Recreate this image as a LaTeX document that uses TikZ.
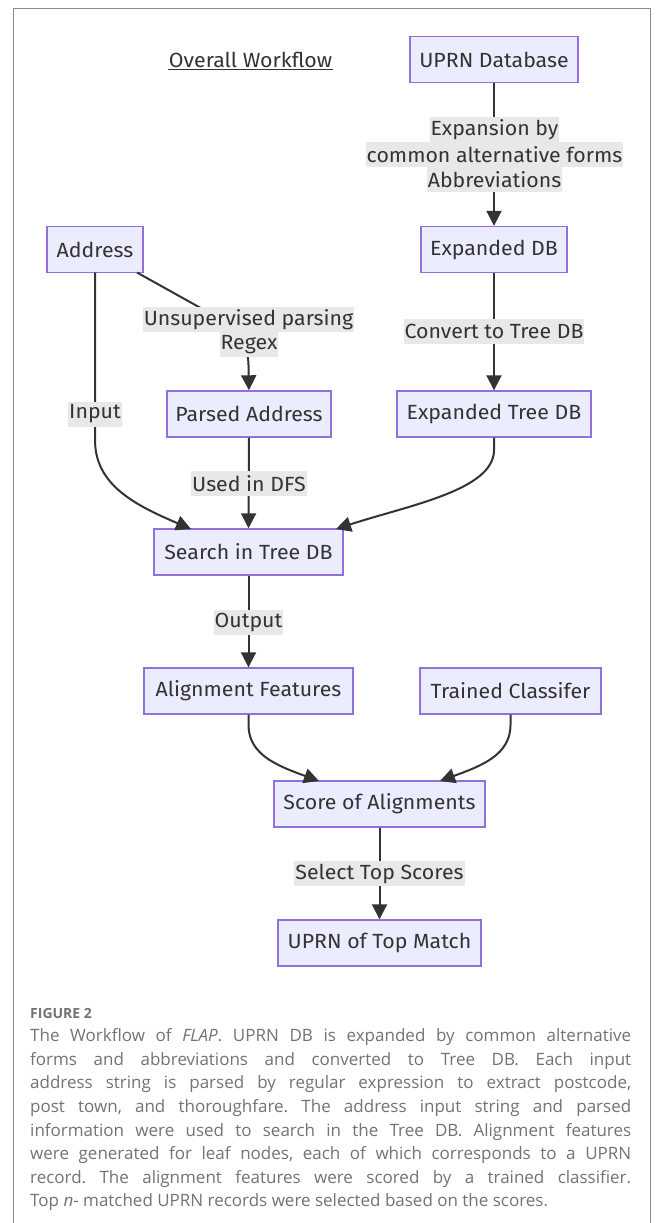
\documentclass[tikz,border=0pt]{standalone}
\usepackage{fontspec}
\setmainfont{Fira Sans}[FakeStretch=1.04]
\newfontfamily\capfont{Open Sans}
\usetikzlibrary{arrows.meta}
\definecolor{nodefill}{HTML}{ECECFF}
\definecolor{nodeline}{HTML}{9370DB}
\definecolor{edgecol}{HTML}{333333}
\definecolor{lblbg}{HTML}{E8E8E8}
\definecolor{framecol}{HTML}{8A8A8A}
\definecolor{capcol}{HTML}{737373}
\tikzset{
  flowbox/.style={draw=nodeline, fill=nodefill, line width=1.4pt, minimum height=46pt,
    inner sep=0pt, text=edgecol, font=\fontsize{20.5}{24}\selectfont},
  edgelbl/.style={fill=lblbg, inner xsep=1pt, inner ysep=0pt, minimum height=25pt,
    text=edgecol, font=\fontsize{20.5}{24}\selectfont},
  flow/.style={draw=edgecol, line width=2pt, -{Triangle[length=15pt,width=15pt]}},
}
\begin{document}
\begin{tikzpicture}[x=1pt, y=-1pt]
\useasboundingbox (0,0) rectangle (656,1223);
\fill[white] (0,0) rectangle (656,1223);
% frame
\draw[framecol, line width=1pt] (13,1223) -- (13,9) -- (650,9) -- (650,1223);

% title
\node[text=edgecol, font=\fontsize{20.5}{24}\selectfont, inner sep=0pt] (title) at (250.5,60) {Overall Workflow};
\draw[edgecol, line width=1pt] (168,70) -- (333,70);

% nodes
\node[flowbox, minimum width=168pt] (uprn) at (494,59.5) {UPRN Database};
\node[flowbox, minimum width=146pt] (exp) at (494,249.5) {Expanded DB};
\node[flowbox, minimum width=96pt] (addr) at (95,249.5) {Address};
\node[flowbox, minimum width=164pt] (parsed) at (249,414) {Parsed Address};
\node[flowbox, minimum width=194pt] (etree) at (494,414) {Expanded Tree DB};
\node[flowbox, minimum width=189pt] (search) at (248.5,552) {Search in Tree DB};
\node[flowbox, minimum width=209pt] (align) at (248.5,691) {Alignment Features};
\node[flowbox, minimum width=181pt] (clf) at (510.5,691) {Trained Classifer};
\node[flowbox, minimum width=211pt] (score) at (379.5,804) {Score of Alignments};
\node[flowbox, minimum width=203pt] (top) at (379.5,943) {UPRN of Top Match};

% connector helper coordinates
\coordinate (addrOut) at (137,272.5);
\coordinate (addrBot) at (95,272.5);
\coordinate (searchInL) at (191,529);
\coordinate (searchInR) at (336,529);
\coordinate (scoreInL) at (319,781);
\coordinate (scoreInR) at (440,781);

% edges
\draw[flow] (uprn.south) -- (exp.north);
\draw[flow] (exp.south) -- (etree.north);
\draw[flow] (addrOut) -- (215,316) .. controls (238,329) and (248,345) .. (248.5,365) -- (parsed.north);
\draw[flow] (addrBot) -- (95,440) .. controls (95,485) and (135,505) .. (searchInL);
\draw[flow] (parsed.south) -- (search.north);
\draw[flow] (etree.south) -- (494,450) .. controls (494,490) and (410,505) .. (searchInR);
\draw[flow] (search.south) -- (align.north);
\draw[flow] (align.south) -- (248.5,725) .. controls (248.5,755) and (278,766) .. (scoreInL);
\draw[flow] (clf.south) -- (510.5,725) .. controls (510.5,755) and (481,766) .. (scoreInR);
\draw[flow] (score.south) -- (top.north);

% edge labels
\node[edgelbl] (l1a) at (494.5,129.5) {Expansion by\ };
\node[edgelbl] (l1b) at (494.5,154.5) {common alternative forms};
\node[edgelbl] (l1c) at (494.5,179.5) {Abbreviations};
\node[edgelbl] (l2) at (494,331.5) {Convert to Tree DB};
\node[edgelbl] (l3a) at (248.5,319.5) {Unsupervised parsing};
\node[edgelbl] (l3b) at (249,344.5) {Regex};
\node[edgelbl] (l4) at (95,414) {Input};
\node[edgelbl] (l5) at (249,483.5) {Used in DFS};
\node[edgelbl] (l6) at (248.5,622) {Output};
\node[edgelbl] (l7) at (379.5,873.5) {Select Top Scores};

% caption
\node[anchor=base west, inner sep=0pt, text=capcol, font=\capfont\bfseries\fontsize{14}{16}\selectfont] (fig) at (30,1018) {FIGURE 2};
\node[anchor=north west, inner sep=0pt, text width=601pt, align=justify, text=capcol,
  font=\capfont\frenchspacing\fontsize{17}{23.6}\selectfont] (cap) at (30,1028.5) {%
The Workflow of \textit{FLAP}. UPRN DB is expanded by common alternative\linebreak
forms and abbreviations and converted to Tree DB. Each input\linebreak
address string is parsed by regular expression to extract postcode,\linebreak
post town, and thoroughfare. The address input string and parsed\linebreak
information were used to search in the Tree DB. Alignment features\linebreak
were generated for leaf nodes, each of which corresponds to a UPRN\linebreak
record. The alignment features were scored by a trained classifier.\linebreak
Top \textit{n}- matched UPRN records were selected based on the scores.};
\end{tikzpicture}
\end{document}
